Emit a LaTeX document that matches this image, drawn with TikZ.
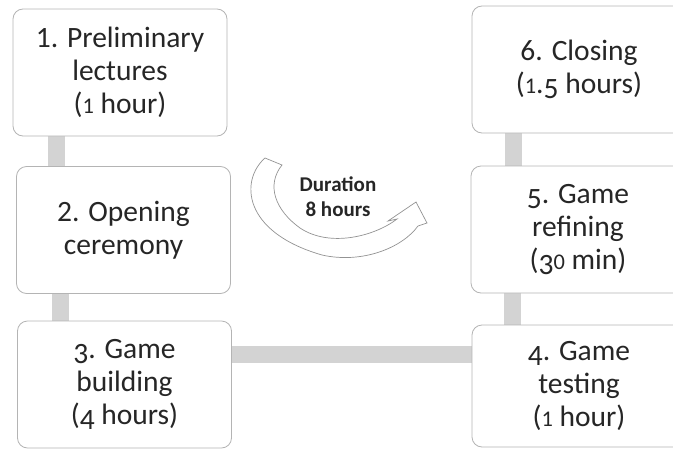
\documentclass[tikz,border=0pt]{standalone}
\usepackage{fontspec}
\usepackage{graphicx}
\setmainfont{Carlito}
\usetikzlibrary{backgrounds}
\definecolor{boxline}{HTML}{B4B4B4}
\definecolor{linkgray}{HTML}{D3D3D3}
\definecolor{txt}{HTML}{262626}
% old style digits
\newcommand{\lowdig}[1]{\raisebox{-0.18em}{#1}}
\newcommand{\smalldig}[1]{\scalebox{0.76}{#1}}

\begin{document}
\begin{tikzpicture}[x=1pt,y=-1pt]
	\tikzstyle{stage}=[draw=boxline,line width=0.8pt,fill=white,rounded corners=10pt,minimum width=214pt,minimum height=127pt,inner sep=0pt,align=center,text=txt,font=\fontsize{29.5}{33}\selectfont]
	\tikzstyle{link}=[draw=linkgray,line width=17pt]
	\clip (0,0) rectangle (673,450);
	\node[stage] (1) at (120,72.5) {1. Preliminary\\lectures\\(\smalldig{1} hour)};
	\node[stage] (2) at (123.5,230) {2. Opening\\ceremony};
	\node[stage] (3) at (124.5,384.5) {\lowdig{3}. Game\\building\\(\lowdig{4} hours)};
	\node[stage,minimum height=122pt] (4) at (579,386) {\lowdig{4}. Game\\testing\\(\smalldig{1} hour)};
	\node[stage] (5) at (578,229.5) {\lowdig{5}. Game\\refining\\(\lowdig{3}\smalldig{0} min)};
	\node[stage] (6) at (579,69.5) {6. Closing\\(\smalldig{1}.\lowdig{5} hours)};
	\begin{scope}[on background layer]
		\draw[link] ([xshift=44pt]1.south west) -- ([xshift=44pt]1.south west |- 2.north);
		\draw[link] ([xshift=44pt]2.south west) -- ([xshift=44pt]2.south west |- 3.north);
		\draw[link] ([yshift=30pt]3.east) -- ([yshift=30pt]3.east -| 4.west);
		\draw[link] ([xshift=42pt]6.south west) -- ([xshift=42pt]6.south west |- 5.north);
		\draw[link] ([xshift=42pt]5.south west) -- ([xshift=42pt]5.south west |- 4.north);
	\end{scope}
	% curved arrow
	\draw[draw=gray!85,fill=white,line width=0.7pt] (265,158) .. controls (240,180) and (242,232) .. (322,255) .. controls (362,264) and (402,248) .. (418,226) -- (427,223) -- (416,202) -- (388,221) -- (397,219) .. controls (375,236) and (330,248) .. (300,228) .. controls (275,210) and (266,185) .. (282,165) -- cycle;
	\node[align=center,text=txt,font=\bfseries\fontsize{21}{25}\selectfont] (dur) at (338,197) {Duration\\8 hours};
\end{tikzpicture}
\end{document}
